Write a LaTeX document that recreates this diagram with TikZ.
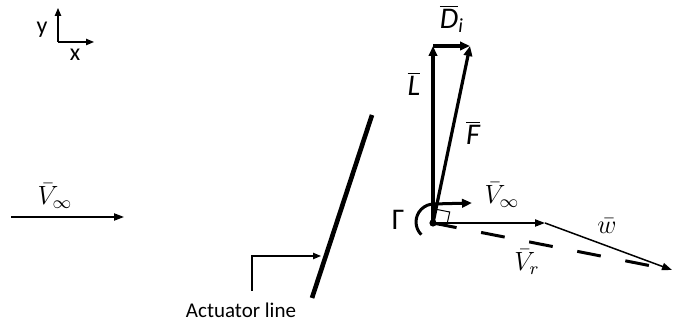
\documentclass[tikz,border=0pt]{standalone}
\usepackage{fontspec}
\setmainfont{Carlito}
\usetikzlibrary{arrows.meta}
\tikzset{
  thinarrow/.style={line width=0.75pt,-{Triangle[length=5pt,width=3.6pt]}},
  thickarrow/.style={line width=1.6pt,-{Triangle[length=5pt,width=4.2pt]}},
  axisarrow/.style={line width=0.55pt,-{Triangle[length=4pt,width=3.2pt]}},
  mathlbl/.style={font=\fontsize{12}{14}\selectfont, inner sep=0pt},
  lbl/.style={font=\fontsize{15}{17}\selectfont, inner sep=0pt},
  smalllbl/.style={font=\fontsize{12}{14}\selectfont, inner sep=0pt},
  actlbl/.style={font=\fontsize{10.5}{12}\selectfont, inner sep=0pt}
}
\newcommand\ovit[1]{$\overline{\hbox{\itshape #1}}$}
\newcommand\mlab[1]{\scalebox{1.1}{$#1$}}
\begin{document}
\begin{tikzpicture}[x=0.5pt,y=-0.5pt]
\useasboundingbox (0,0) rectangle (673,324);
% axes
\coordinate (ax0) at (58,42);
\coordinate (axy) at (58,8);
\coordinate (axx) at (94,42);
\draw[axisarrow] (ax0) -- (axy);
\draw[axisarrow] (ax0) -- (axx);
\node[smalllbl] (ylab) at (42,30) {y};
\node[smalllbl] (xlab) at (75,55) {x};
% free stream
\coordinate (vs) at (11,217);
\coordinate (ve) at (124,217);
\draw[thinarrow] (vs) -- (ve);
\node[mathlbl] (vinf1) at (55,196) {\mlab{\bar{V}_\infty}};
% actuator line
\coordinate (act1) at (372,115);
\coordinate (act2) at (312,298);
\draw[line width=2.3pt] (act1) -- (act2);
\coordinate (c1) at (252,291);
\coordinate (c2) at (252,256);
\coordinate (c3) at (321,256);
\draw[line width=0.6pt,-{Triangle[length=4pt,width=3.2pt]}] (c1) -- (c2) -- (c3);
\node[actlbl] (actlab) at (241,310) {Actuator line};
% force triangle
\coordinate (O) at (433,223);
\coordinate (Ltop) at (433,46);
\coordinate (Ftop) at (470,46);
\coordinate (Vend) at (545,223);
\coordinate (Wend) at (672,270);
\draw[line width=1.5pt, dash pattern=on 12pt off 12.5pt] (O) -- (Wend);
\draw[thinarrow] (O) -- (Vend);
\draw[thinarrow] (Vend) -- (Wend);
\draw[thickarrow] (O) -- (Ltop);
\draw[thickarrow] (Ltop) -- (Ftop);
\draw[thickarrow] (O) -- (Ftop);
% right angle mark
\draw[line width=0.5pt] (446.7,225.7) -- (449.7,212) -- (436,209.3);
% circulation
\coordinate (g0) at (421.3,234.7);
\coordinate (gend) at (472,203);
\draw[line width=1.5pt,-{Triangle[length=5pt,width=4.2pt]}] (g0) arc[start angle=135,end angle=270,radius=18] -- (gend);
\fill (O) circle[radius=3.6];
% labels
\node[lbl] (gam) at (398,220) {Γ};
\node[lbl] (Llab) at (414,84) {\ovit{L}};
\node[lbl] (Dlab) at (452,19) {\ovit{D}$_{\hbox{\fontsize{10}{11}\selectfont\itshape i}}$};
\node[lbl] (Flab) at (473,133) {\ovit{F}};
\node[mathlbl] (vinf2) at (502,195) {\mlab{\bar{V}_\infty}};
\node[mathlbl] (wlab) at (607,226) {\mlab{\bar{w}}};
\node[mathlbl] (vrlab) at (527,262) {\mlab{\bar{V}_r}};
\end{tikzpicture}
\end{document}
